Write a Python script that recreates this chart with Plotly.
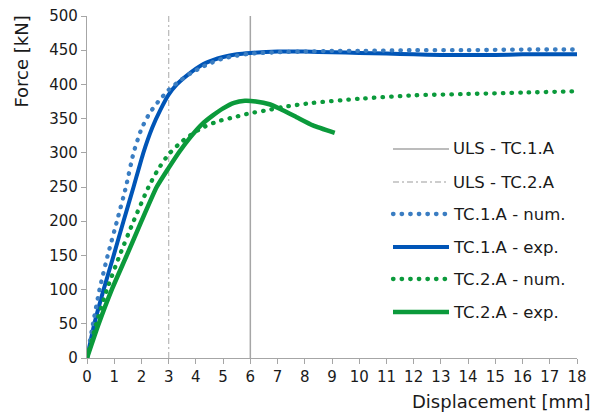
import plotly.graph_objects as go

# ---- data ----
uls_tc1_x = [6, 6]
uls_tc2_x = [3, 3]
uls_y = [0, 500]

tc1_exp_x = [0, 0.27, 0.61, 0.98, 1.34, 1.71, 2.07, 2.4, 2.7, 3.0, 3.3, 3.7, 4.2, 4.6, 5.0, 5.5, 6.0, 7.0, 8.0, 9.0, 10, 11, 12, 13, 14, 15, 16, 17, 18]
tc1_exp_y = [0, 50, 100, 150, 200, 250, 300, 337, 363, 385, 400, 414, 428, 435, 440, 444, 446, 448, 448, 447, 446, 445, 444, 443, 443, 443, 444, 444, 444]

tc1_num_x = [0, 0.22, 0.46, 0.76, 1.1, 1.43, 1.71, 2.0, 2.3, 2.6, 3.0, 3.4, 3.8, 4.2, 4.6, 5.0, 5.5, 6.0, 7, 8, 9, 10, 12, 14, 16, 18]
tc1_num_y = [0, 50, 100, 150, 200, 250, 300, 335, 358, 374, 392, 405, 416, 425, 432, 438, 442, 445, 447, 448, 449, 449, 450, 450, 451, 451]

tc2_exp_x = [0, 0.43, 0.91, 1.46, 2.0, 2.56, 3.0, 3.4, 3.8, 4.2, 4.6, 5.0, 5.4, 5.8, 6.2, 6.7, 7.1, 7.7, 8.3, 9.1]
tc2_exp_y = [0, 50, 100, 150, 200, 250, 278, 302, 323, 341, 354, 365, 373, 376, 375, 371, 364, 352, 340, 329]

tc2_num_x = [0, 0.34, 0.73, 1.2, 1.71, 2.26, 2.6, 3.0, 3.5, 4.2, 4.8, 5.4, 6.0, 6.6, 7.2, 8.3, 10, 12, 14, 16, 18]
tc2_num_y = [0, 50, 100, 150, 200, 250, 275, 298, 317, 336, 346, 352, 358, 362, 367, 373, 379, 384, 386, 388, 390]

legend_labels = ["ULS - TC.1.A", "ULS - TC.2.A", "TC.1.A - num.", "TC.1.A - exp.", "TC.2.A - num.", "TC.2.A - exp."]

# ---- styles ----
GRAY_SOLID = "#a6a6a6"
GRAY_DD = "#bdbdbd"
BLUE_EXP = "#0055b7"
BLUE_NUM = "#3a7dc2"
GREEN = "#0b9a3b"
TEXT = "#1a1a1a"
DD = "6px,3px,2px,3px"
DOT = "0.5px,8.1px"

styles = [
    dict(color=GRAY_SOLID, width=1.5, dash="solid"),
    dict(color=GRAY_DD, width=1.3, dash=DD),
    dict(color=BLUE_NUM, width=4.3, dash=DOT),
    dict(color=BLUE_EXP, width=4, dash="solid"),
    dict(color=GREEN, width=4.3, dash=DOT),
    dict(color=GREEN, width=4.5, dash="solid"),
]

fig = go.Figure()
fig.add_trace(go.Scatter(x=uls_tc1_x, y=uls_y, mode="lines", line=styles[0], name=legend_labels[0]))
fig.add_trace(go.Scatter(x=uls_tc2_x, y=uls_y, mode="lines", line=styles[1], name=legend_labels[1]))
fig.add_trace(go.Scatter(x=tc1_exp_x, y=tc1_exp_y, mode="lines", line=dict(styles[3], shape="spline", smoothing=0.5), name=legend_labels[3]))
fig.add_trace(go.Scatter(x=tc1_num_x, y=tc1_num_y, mode="lines", line=dict(styles[2], shape="spline", smoothing=0.5), name=legend_labels[2]))
fig.add_trace(go.Scatter(x=tc2_exp_x, y=tc2_exp_y, mode="lines", line=dict(styles[5], shape="spline", smoothing=0.5), name=legend_labels[5]))
fig.add_trace(go.Scatter(x=tc2_num_x, y=tc2_num_y, mode="lines", line=dict(styles[4], shape="spline", smoothing=0.5), name=legend_labels[4]))

# ---- custom legend (paper coordinates) ----
L, R, T, B = 87, 17, 16, 62
W, H = 594, 420
pw, ph = W - L - R, H - T - B
rows_px = [149, 182, 214, 247, 279, 312]
x0p = (393 - L) / pw
x1p = (449 - L) / pw
xtp = (451 - L) / pw
for lab, st, rp in zip(legend_labels, styles, rows_px):
    yp = (H - B - rp) / ph
    fig.add_shape(type="line", xref="paper", yref="paper", x0=x0p, x1=x1p, y0=yp, y1=yp,
                  line=dict(color=st["color"], width=st["width"], dash=st["dash"]))
    fig.add_annotation(xref="paper", yref="paper", x=xtp, y=yp, text=lab, showarrow=False,
                       xanchor="left", yanchor="middle", font=dict(size=16.5, color=TEXT))

# axis titles
fig.add_annotation(xref="paper", yref="paper", x=(22 - L) / pw, y=1.007, text="Force [kN]",
                   textangle=-90, showarrow=False, xanchor="center", yanchor="top",
                   font=dict(size=18, color=TEXT))
fig.add_annotation(xref="paper", yref="paper", x=(593 - L) / pw, y=(H - B - 401) / ph,
                   text="Displacement [mm]", showarrow=False, xanchor="right", yanchor="middle",
                   font=dict(size=18, color=TEXT))

axis_common = dict(showline=True, linecolor=GRAY_SOLID, linewidth=1.3, ticks="outside",
                   ticklen=5, tickcolor=GRAY_SOLID, tickwidth=1.3, showgrid=False, zeroline=False,
                   automargin=False, tickfont=dict(size=15, color=TEXT))
fig.update_xaxes(range=[0, 18], dtick=1, tick0=0, **axis_common)
fig.update_yaxes(range=[0, 500], dtick=50, tick0=0, **axis_common)

fig.update_layout(width=W, height=H, margin=dict(l=L, r=R, t=T, b=B, autoexpand=False),
                  paper_bgcolor="white", plot_bgcolor="white", showlegend=False,
                  font=dict(family="DejaVu Sans, Verdana, sans-serif", color=TEXT))

post = """
document.body.style.margin='0px';
document.body.style.padding='0px';
document.querySelectorAll('path').forEach(function(p){
  var d = p.style.strokeDasharray || p.getAttribute('stroke-dasharray') || '';
  if (/^0\\.5/.test(d)) { p.style.strokeLinecap = 'round'; }
});
"""
fig.write_html("out.html", config={"displayModeBar": False}, post_script=post)
